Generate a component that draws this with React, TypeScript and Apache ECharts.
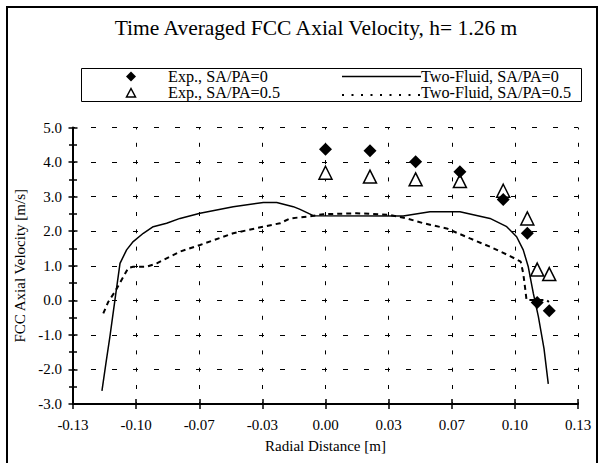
import React, { useEffect, useRef } from "react";
import * as echarts from "echarts";

const FONT = "Liberation Serif";

const titleText = "Time Averaged FCC Axial Velocity, h= 1.26 m";
const xAxisName = "Radial Distance [m]";
const yAxisName = "FCC Axial Velocity [m/s]";
const legendLabels = ["Exp., SA/PA=0", "Exp., SA/PA=0.5", "Two-Fluid, SA/PA=0", "Two-Fluid, SA/PA=0.5"];

const xMin = -0.13;
const xMax = 0.13;
const xInterval = 0.0325;
const yMin = -3;
const yMax = 5;
const yInterval = 1;

// Experimental points
const expX = [0.0, 0.0229, 0.0464, 0.0692, 0.0915, 0.1039, 0.109, 0.1152];
const expY0 = [4.37, 4.33, 4.01, 3.72, 2.92, 1.94, -0.06, -0.3];
const expY05 = [3.69, 3.58, 3.5, 3.45, 3.17, 2.37, 0.89, 0.76];

// Two-Fluid, SA/PA=0
const tf0X = [-0.1151, -0.113, -0.111, -0.1084, -0.1058, -0.1024, -0.099, -0.0938, -0.0887, -0.0818, -0.0749, -0.0646, -0.0475, -0.032, -0.0251, -0.0166, -0.0131, -0.0063, 0.04, 0.0538, 0.0692, 0.0847, 0.0933, 0.0984, 0.1018, 0.1044, 0.107, 0.1096, 0.1125, 0.1147];
const tf0Y = [-2.62, -1.8, -1.05, 0.01, 1.07, 1.46, 1.7, 1.94, 2.13, 2.23, 2.37, 2.52, 2.71, 2.83, 2.83, 2.71, 2.63, 2.45, 2.44, 2.56, 2.56, 2.37, 2.13, 1.84, 1.46, 0.97, 0.2, -0.47, -1.4, -2.42];

// Two-Fluid, SA/PA=0.5
const tf05X = [-0.1144, -0.1118, -0.1084, -0.1041, -0.1015, -0.099, -0.0921, -0.0869, -0.0749, -0.0646, -0.0475, -0.032, -0.0234, -0.0183, -0.0097, -0.0011, 0.016, 0.0332, 0.0418, 0.0504, 0.0624, 0.0744, 0.0847, 0.095, 0.1005, 0.1018, 0.1027, 0.1035, 0.1087, 0.1138, 0.115];
const tf05Y = [-0.38, -0.04, 0.25, 0.68, 0.94, 0.97, 0.97, 1.07, 1.41, 1.6, 1.94, 2.13, 2.23, 2.37, 2.42, 2.49, 2.52, 2.47, 2.37, 2.23, 2.08, 1.79, 1.55, 1.28, 1.12, 0.78, 0.39, 0.01, 0.01, 0.01, -0.05];

const zip = (xs: number[], ys: number[]) => xs.map((x, i) => [x, ys[i]]);

const fmtX = (v: number) => {
  const r = (Math.sign(v) * Math.round(Math.abs(v) * 100 + 1e-6)) / 100;
  return r.toFixed(2);
};

export default function App() {
  const ref = useRef<HTMLDivElement>(null);
  useEffect(() => {
    if (!ref.current) return;
    const chart = echarts.init(ref.current, undefined, { renderer: "svg" });
    const gridRect = { left: 73, top: 127.5, width: 505, height: 276.5 };
    const txt = (x: number, y: number, text: string, size: number, align: string) => ({
      type: "text",
      x,
      y,
      z: 10,
      style: {
        text,
        fontSize: size,
        fontFamily: FONT,
        fill: "#000",
        align,
        textAlign: align,
        verticalAlign: "middle",
        textVerticalAlign: "middle",
      },
    });
    const legFont = 16.2;
    const legRow1 = 76.5;
    const legRow2 = 93;
    chart.setOption({
      animation: false,
      backgroundColor: "#fff",
      textStyle: { fontFamily: FONT, color: "#000" },
      grid: [
        { ...gridRect, containLabel: false },
        { ...gridRect, containLabel: false },
      ],
      graphic: [
        {
          type: "rect",
          shape: { x: 7, y: 7, width: 590, height: 470 },
          style: { fill: "none", stroke: "#000", lineWidth: 2 },
        },
        txt(316, 28, titleText, 21.5, "center"),
        {
          type: "rect",
          shape: { x: 81.5, y: 68.5, width: 500, height: 33 },
          style: { fill: "#fff", stroke: "#000", lineWidth: 1 },
        },
        {
          type: "polygon",
          z: 10,
          shape: { points: [[131, legRow1 - 5], [136, legRow1], [131, legRow1 + 5], [126, legRow1]] },
          style: { fill: "#000" },
        },
        txt(168, legRow1, legendLabels[0], legFont, "left"),
        {
          type: "polygon",
          z: 10,
          shape: { points: [[131, legRow2 - 4.5], [135.5, legRow2 + 4], [126.5, legRow2 + 4]] },
          style: { fill: "#fff", stroke: "#000", lineWidth: 1.5 },
        },
        txt(168, legRow2, legendLabels[1], legFont, "left"),
        {
          type: "line",
          z: 10,
          shape: { x1: 342, y1: legRow1, x2: 421, y2: legRow1 },
          style: { stroke: "#000", lineWidth: 1.5 },
        },
        txt(421, legRow1, legendLabels[2], legFont, "left"),
        {
          type: "line",
          z: 10,
          shape: { x1: 342, y1: legRow2 + 2, x2: 421, y2: legRow2 + 2 },
          style: { stroke: "#000", lineWidth: 2, lineDash: [2, 7.5] },
        },
        txt(421, legRow2, legendLabels[3], legFont, "left"),
      ],
      xAxis: [
        {
          type: "value",
          gridIndex: 0,
          min: xMin,
          max: xMax,
          interval: xInterval,
          name: xAxisName,
          nameLocation: "middle",
          nameGap: 34,
          nameTextStyle: { fontSize: 15, fontFamily: FONT, color: "#000" },
          axisLine: { show: true, onZero: false, lineStyle: { color: "#000", width: 2 } },
          axisTick: { show: true, inside: false, length: 5, lineStyle: { color: "#000", width: 1.5 } },
          axisLabel: { show: true, margin: 13, fontSize: 15, fontFamily: FONT, color: "#000", formatter: fmtX },
          splitLine: { show: true, lineStyle: { color: "#000", width: 1, type: [4, 13.3], dashOffset: 2 } },
        },
        {
          type: "value",
          gridIndex: 1,
          min: xMin,
          max: xMax,
          interval: xInterval,
          axisLine: { show: false, onZero: false },
          axisTick: { show: true, inside: true, length: 5, lineStyle: { color: "#000", width: 1.5 } },
          axisLabel: { show: false },
          splitLine: { show: false },
        },
      ],
      yAxis: [
        {
          type: "value",
          gridIndex: 0,
          min: yMin,
          max: yMax,
          interval: yInterval,
          name: yAxisName,
          nameLocation: "middle",
          nameGap: 46,
          nameTextStyle: { fontSize: 15, fontFamily: FONT, color: "#000" },
          axisLine: { show: true, onZero: false, lineStyle: { color: "#000", width: 2 } },
          axisTick: { show: true, inside: false, length: 4.5, lineStyle: { color: "#000", width: 1.5 } },
          minorTick: { show: true, splitNumber: 2, length: 4, lineStyle: { color: "#000", width: 1.5 } },
          axisLabel: { show: true, margin: 11, fontSize: 15, fontFamily: FONT, color: "#000", formatter: (v: number) => v.toFixed(1) },
          splitLine: { show: true, lineStyle: { color: "#000", width: 1, type: [5, 16], dashOffset: 2.5 } },
        },
        {
          type: "value",
          gridIndex: 1,
          min: yMin,
          max: yMax,
          interval: yInterval,
          axisLine: { show: false, onZero: false },
          axisTick: { show: true, inside: true, length: 4.5, lineStyle: { color: "#000", width: 1.5 } },
          minorTick: { show: true, splitNumber: 2, length: 4, lineStyle: { color: "#000", width: 1.5 } },
          axisLabel: { show: false },
          splitLine: { show: false },
        },
      ],
      series: [
        {
          name: "ticks",
          type: "scatter",
          xAxisIndex: 1,
          yAxisIndex: 1,
          data: [[0, 100]],
          symbolSize: 0,
          silent: true,
        },
        {
          name: legendLabels[2],
          type: "line",
          xAxisIndex: 0,
          yAxisIndex: 0,
          data: zip(tf0X, tf0Y),
          symbol: "none",
          lineStyle: { color: "#000", width: 1.5 },
        },
        {
          name: legendLabels[3],
          type: "line",
          xAxisIndex: 0,
          yAxisIndex: 0,
          data: zip(tf05X, tf05Y),
          symbol: "none",
          lineStyle: { color: "#000", width: 2, type: [5, 4] },
        },
        {
          name: legendLabels[1],
          type: "scatter",
          xAxisIndex: 0,
          yAxisIndex: 0,
          data: zip(expX, expY05),
          symbol: "triangle",
          symbolSize: 13,
          itemStyle: { color: "#fff", borderColor: "#000", borderWidth: 1.5, opacity: 1 },
        },
        {
          name: legendLabels[0],
          type: "scatter",
          xAxisIndex: 0,
          yAxisIndex: 0,
          data: zip(expX, expY0),
          symbol: "diamond",
          symbolSize: 13,
          itemStyle: { color: "#000", opacity: 1 },
        },
      ],
    });
    return () => chart.dispose();
  }, []);
  return (
    <div
      ref={ref}
      style={{ position: "fixed", left: 0, top: 0, width: 599, height: 463, background: "#fff" }}
    />
  );
}
